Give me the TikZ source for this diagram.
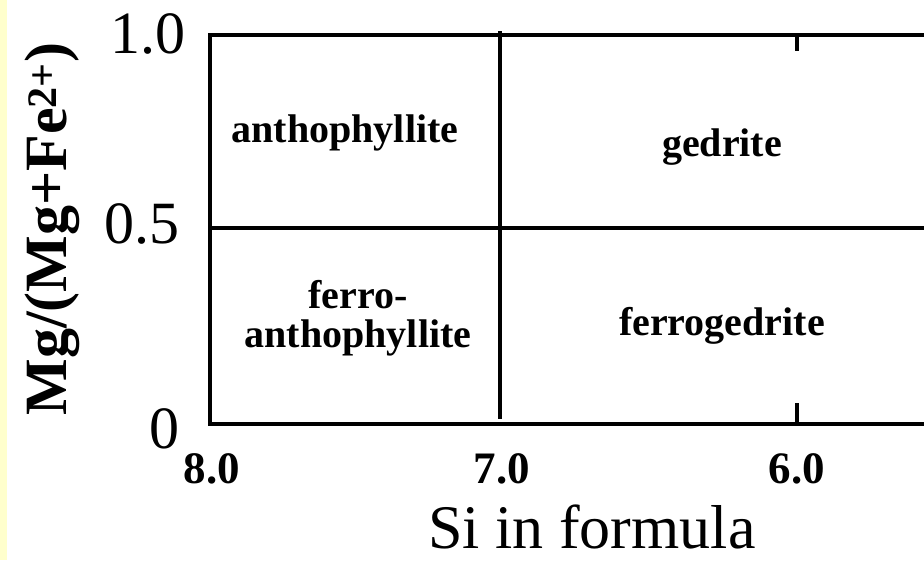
\documentclass[tikz,border=0pt]{standalone}
\usepackage{fontspec}
\setmainfont{Liberation Serif}
\definecolor{stripyellow}{HTML}{FFFFCC}
\begin{document}
\begin{tikzpicture}[
    x=1pt, y=-1pt,
    frame/.style={line width=4pt, black, line cap=rect},
    divider/.style={line width=3.5pt, black},
    tickmark/.style={line width=3.5pt, black},
    field/.style={font=\fontsize{40}{39}\selectfont\bfseries, align=center},
    ytick/.style={font=\fontsize{60}{60}\selectfont, anchor=base east},
    xtick/.style={font=\fontsize{45}{45}\selectfont\bfseries, anchor=base},
    axlabel/.style={font=\fontsize{62}{62}\selectfont, anchor=base},
]

% Canvas -- white page with a yellow strip at the left edge
\fill[white] (0,0) rectangle (924,560);
\fill[stripyellow] (0,0) rectangle (7,560);
\useasboundingbox (0,0) rectangle (924,560);

% Frame corners (right side runs off the page)
\coordinate (tl) at (210,35);
\coordinate (bl) at (210,424);
\coordinate (tr) at (924,35);
\coordinate (br) at (924,424);
\coordinate (ml) at (210,228);
\coordinate (mr) at (924,228);
\coordinate (vt) at (500,31);
\coordinate (vb) at (500,419);
\coordinate (t6top) at (797,35);
\coordinate (t6topend) at (797,51);
\coordinate (t6bot) at (797,424);
\coordinate (t6botend) at (797,403);

% Frame and field boundaries
\draw[frame] (tr) -- (tl) -- (bl) -- (br);
\draw[divider] (ml) -- (mr);
\draw[divider] (vt) -- (vb);
\draw[tickmark] (t6top) -- (t6topend);
\draw[tickmark] (t6bot) -- (t6botend);

% Field names
\node[field, anchor=base] (anth)  at (345,142) {anthophyllite};
\node[field, anchor=base] (ged)   at (722,156) {gedrite};
\node[field]              (fanth) at (358,318) {ferro-\\anthophyllite};
\node[field, anchor=base] (fged)  at (722,335) {ferrogedrite};

% Vertical axis
\node[ytick] (y10) at (189,53)  {1.0};
\node[ytick] (y05) at (183,243) {0.5};
\node[ytick] (y00) at (183,448) {0};
\node[axlabel, rotate=90, font=\fontsize{60}{60}\selectfont\bfseries]
     (ylab) at (66,229) {Mg/(Mg+Fe\textsuperscript{2+})};

% Horizontal axis
\node[xtick] (x80) at (212,483) {8.0};
\node[xtick] (x70) at (502,483) {7.0};
\node[xtick] (x60) at (797,483) {6.0};
\node[axlabel] (xlab) at (592,548) {Si in formula};

\end{tikzpicture}
\end{document}
